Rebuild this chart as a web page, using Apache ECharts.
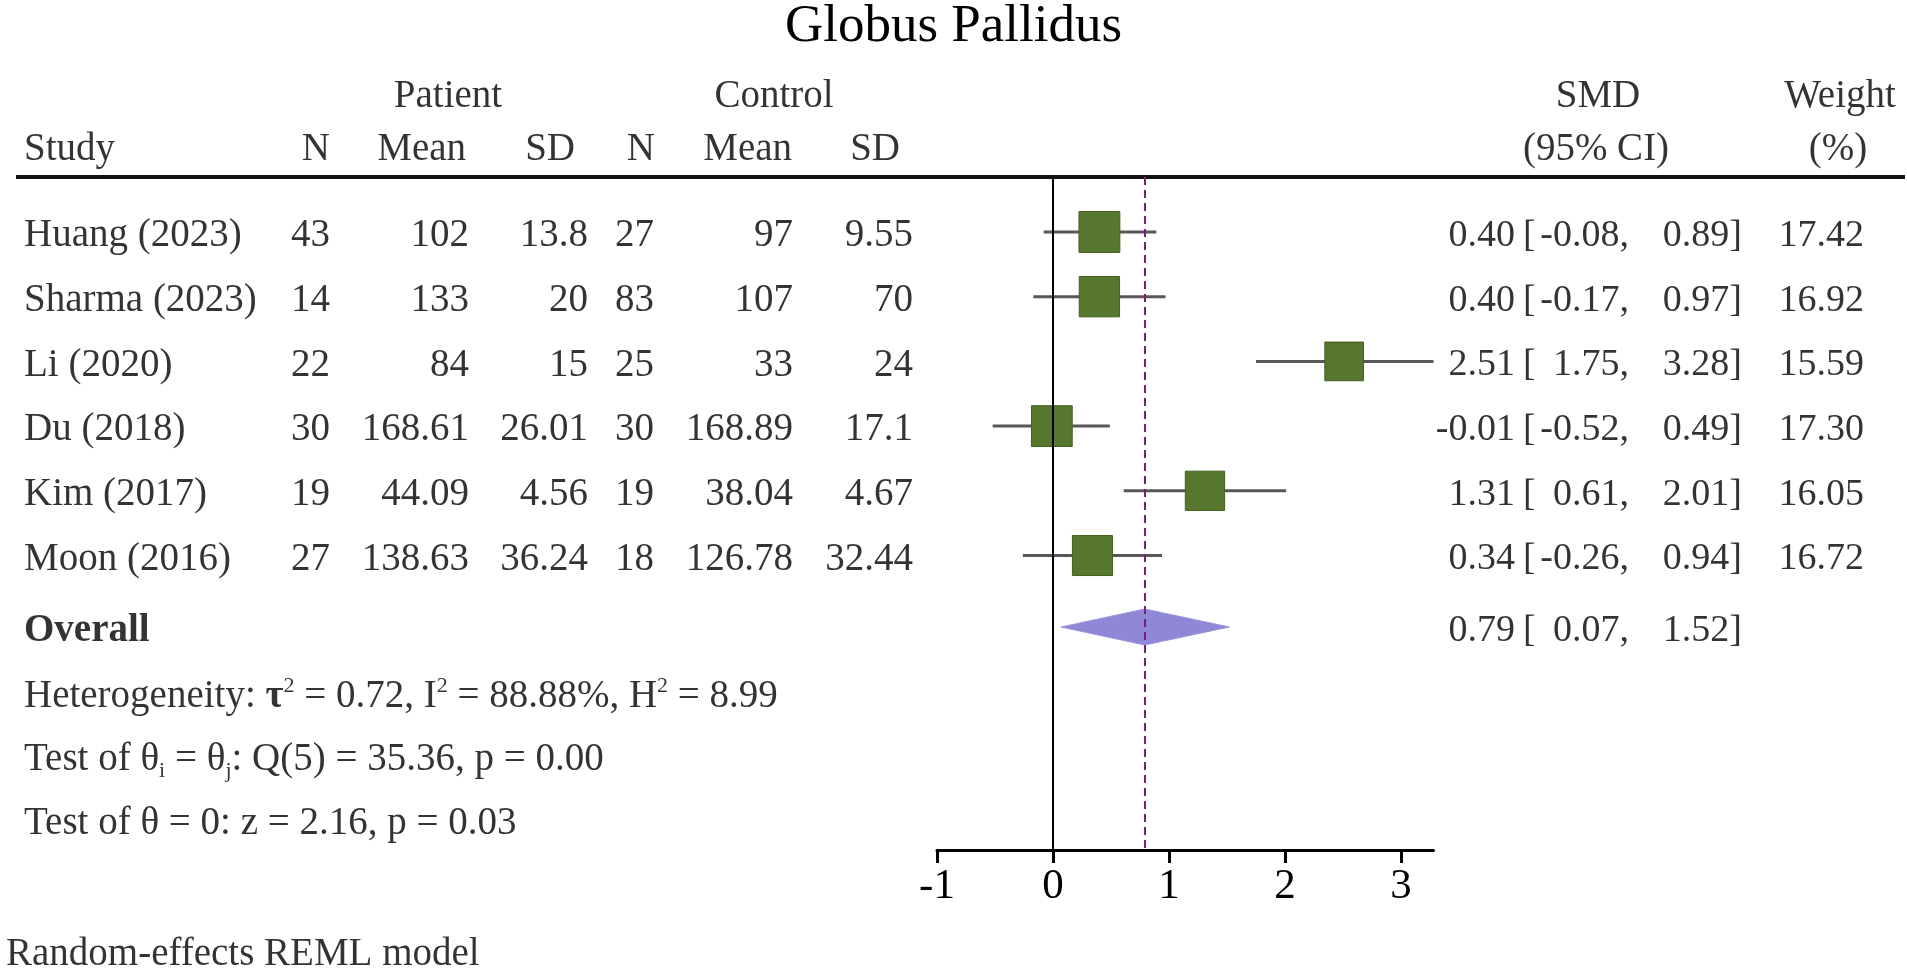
<!DOCTYPE html>
<html>
<head>
<meta charset="utf-8">
<title>Globus Pallidus</title>
<script src="https://cdn.jsdelivr.net/npm/echarts@6/dist/echarts.min.js"></script>
<style>
  html, body { margin: 0; padding: 0; background: #fff; }
  #chart { width: 1907px; height: 970px; }
</style>
</head>
<body>
<div id="chart"></div>
<script>
// study table
const studies = ['Huang (2023)', 'Sharma (2023)', 'Li (2020)', 'Du (2018)', 'Kim (2017)', 'Moon (2016)'];
const patientN = [43, 14, 22, 30, 19, 27];
const patientMean = [102, 133, 84, 168.61, 44.09, 138.63];
const patientSD = [13.8, 20, 15, 26.01, 4.56, 36.24];
const controlN = [27, 83, 25, 30, 19, 18];
const controlMean = [97, 107, 33, 168.89, 38.04, 126.78];
const controlSD = [9.55, 70, 24, 17.1, 4.67, 32.44];

// effect sizes
const smd = [0.40, 0.40, 2.51, -0.01, 1.31, 0.34];
const ciLow = [-0.08, -0.17, 1.75, -0.52, 0.61, -0.26];
const ciHigh = [0.89, 0.97, 3.28, 0.49, 2.01, 0.94];
const weight = [17.42, 16.92, 15.59, 17.30, 16.05, 16.72];

// pooled result and tests
const overallEst = 0.79, overallLow = 0.07, overallHigh = 1.52;
const tau2 = 0.72, i2 = 88.88, h2 = 8.99;
const qDf = 5, qStat = 35.36, qP = 0.00;
const zStat = 2.16, zP = 0.03;

const xTicks = [-1, 0, 1, 2, 3];

// ---- layout ----
const W = 1907, H = 970;
const FONT = "'Liberation Serif', 'Times New Roman', serif";
const FS = 39;
const FS_NUM = 38;                        // right-hand SMD / weight columns
const ROW0 = 232, ROW_H = 64.7;          // pixel y of first study row, row spacing
const rowAt = px => (px - ROW0) / ROW_H;
const TDY = 4 / ROW_H;                    // text sits a little lower than the marks
const PLOT = { left: 937, right: 1433.5, top: 177, bottom: 850 };
const BOX_K = 9.8;                        // square side = BOX_K * sqrt(weight)

const ROW_HEAD1 = rowAt(97), ROW_HEAD2 = rowAt(150), ROW_RULE = rowAt(177);
const ROW_OVERALL = rowAt(627);
const ROW_HET = rowAt(697), ROW_Q = rowAt(760), ROW_Z = rowAt(824), ROW_NOTE = rowAt(955);

const studyRows = studies.map((_, i) => i);
const textRows = studyRows.map(r => r + TDY);
const col = (x, rows, texts) => texts.map((t, k) => [x, rows[k], String(t)]);

function textSeries(points, align, extra) {
  return {
    type: 'scatter', xAxisIndex: 1, yAxisIndex: 1,
    symbolSize: 1, itemStyle: { color: 'rgba(0,0,0,0)' }, silent: true, z: 5,
    data: points,
    label: Object.assign({
      show: true, position: 'inside', align: align, verticalAlign: 'middle',
      color: '#000', fontFamily: FONT, fontSize: FS,
      formatter: p => p.data[2]
    }, extra || {})
  };
}

const rich = {
  t: { fontFamily: FONT, fontSize: FS, color: '#000', lineHeight: 44 },
  b: { fontFamily: FONT, fontSize: FS, color: '#000', lineHeight: 44, fontWeight: 'bold' },
  sup: { fontFamily: FONT, fontSize: 22, color: '#000', lineHeight: 30, verticalAlign: 'top' },
  sub: { fontFamily: FONT, fontSize: 22, color: '#000', lineHeight: 26, verticalAlign: 'bottom' }
};

const hetText = `{t|Heterogeneity: }{b|τ}{sup|2}{t| = ${tau2.toFixed(2)}, I}{sup|2}{t| = ${i2.toFixed(2)}%, H}{sup|2}{t| = ${h2.toFixed(2)}}`;
const qText = `{t|Test of θ}{sub|i}{t| = θ}{sub|j}{t|: Q(${qDf}) = ${qStat.toFixed(2)}, p = ${qP.toFixed(2)}}`;
const zText = `{t|Test of θ = 0: z = ${zStat.toFixed(2)}, p = ${zP.toFixed(2)}}`;

const allRows = textRows.concat([ROW_OVERALL + TDY]);
const estTxt = smd.concat([overallEst]).map(v => v.toFixed(2));
const lowTxt = ciLow.concat([overallLow]).map(v => v.toFixed(2) + ',');
const highTxt = ciHigh.concat([overallHigh]).map(v => v.toFixed(2) + ']');
const numStyle = { fontSize: FS_NUM };

const chart = echarts.init(document.getElementById('chart'));

chart.setOption({
  backgroundColor: '#fff',
  animation: false,
  title: {
    text: 'Globus Pallidus', left: 'center', top: -4,
    textStyle: { fontFamily: FONT, fontSize: 53, fontWeight: 'normal', color: '#000' }
  },
  grid: [
    { left: PLOT.left, right: W - PLOT.right, top: PLOT.top, bottom: H - PLOT.bottom },
    { left: 0, right: 0, top: 0, bottom: 0 }
  ],
  xAxis: [
    {
      gridIndex: 0, type: 'value', min: -1, max: 3.28,
      splitLine: { show: false },
      axisLine: { show: true, onZero: false, lineStyle: { color: '#000', width: 3 } },
      axisTick: { show: true, customValues: xTicks, length: 13, lineStyle: { color: '#000', width: 3 } },
      axisLabel: {
        customValues: xTicks, margin: 15, color: '#000',
        fontFamily: FONT, fontSize: 43, formatter: v => String(v)
      }
    },
    { gridIndex: 1, type: 'value', min: 0, max: W, show: false }
  ],
  yAxis: [
    { gridIndex: 0, type: 'value', inverse: true, min: ROW_RULE, max: rowAt(PLOT.bottom), show: false },
    { gridIndex: 1, type: 'value', inverse: true, min: rowAt(0), max: rowAt(H), show: false }
  ],
  series: [
    // reference lines: no effect and pooled estimate
    {
      type: 'line', xAxisIndex: 0, yAxisIndex: 0, data: [], z: 1,
      markLine: {
        silent: true, symbol: ['none', 'none'], label: { show: false },
        data: [
          { xAxis: 0, lineStyle: { color: '#000', width: 2, type: 'solid' } },
          { xAxis: overallEst, lineStyle: { color: '#7a1e7a', width: 2, type: [8, 5] } }
        ]
      }
    },
    // study CIs and weighted squares
    {
      type: 'custom', xAxisIndex: 0, yAxisIndex: 0, z: 3, clip: false,
      data: studies.map((s, i) => [smd[i], i, ciLow[i], ciHigh[i], weight[i]]),
      encode: { x: 0, y: 1 },
      renderItem: (params, api) => {
        const y = api.value(1);
        const c = api.coord([api.value(0), y]);
        const lo = api.coord([api.value(2), y]);
        const hi = api.coord([api.value(3), y]);
        const s = BOX_K * Math.sqrt(api.value(4));
        return {
          type: 'group',
          children: [
            { type: 'line', shape: { x1: lo[0], y1: lo[1], x2: hi[0], y2: hi[1] },
              style: { stroke: '#575757', lineWidth: 3 } },
            { type: 'rect', shape: { x: c[0] - s / 2, y: c[1] - s / 2, width: s, height: s },
              style: { fill: '#56772d', stroke: '#42601e', lineWidth: 1 } }
          ]
        };
      }
    },
    // pooled diamond
    {
      type: 'custom', xAxisIndex: 0, yAxisIndex: 0, z: 3, clip: false,
      data: [[overallEst, ROW_OVERALL, overallLow, overallHigh]],
      encode: { x: 0, y: 1 },
      renderItem: (params, api) => {
        const y = api.value(1);
        const c = api.coord([api.value(0), y]);
        const lo = api.coord([api.value(2), y]);
        const hi = api.coord([api.value(3), y]);
        const h = 18;
        return {
          type: 'polygon',
          shape: { points: [[lo[0], c[1]], [c[0], c[1] - h], [hi[0], c[1]], [c[0], c[1] + h]] },
          style: { fill: '#8f88d6', stroke: '#9a93dc', lineWidth: 1 }
        };
      }
    },
    // header rule
    {
      type: 'line', xAxisIndex: 1, yAxisIndex: 1, symbol: 'none', silent: true, z: 4,
      data: [[16, ROW_RULE], [1905, ROW_RULE]],
      lineStyle: { color: '#111', width: 4 }
    },
    // headers
    textSeries([[448, ROW_HEAD1, 'Patient'], [774, ROW_HEAD1, 'Control'],
                [1598, ROW_HEAD1, 'SMD'], [1840, ROW_HEAD1, 'Weight'],
                [1596, ROW_HEAD2, '(95% CI)'], [1838, ROW_HEAD2, '(%)']], 'center'),
    textSeries([[24, ROW_HEAD2, 'Study']], 'left'),
    textSeries([[330, ROW_HEAD2, 'N'], [466, ROW_HEAD2, 'Mean'], [575, ROW_HEAD2, 'SD'],
                [655, ROW_HEAD2, 'N'], [792, ROW_HEAD2, 'Mean'], [900, ROW_HEAD2, 'SD']], 'right'),
    // study table
    textSeries(col(24, textRows, studies), 'left'),
    textSeries(col(330, textRows, patientN), 'right'),
    textSeries(col(469, textRows, patientMean), 'right'),
    textSeries(col(588, textRows, patientSD), 'right'),
    textSeries(col(654, textRows, controlN), 'right'),
    textSeries(col(793, textRows, controlMean), 'right'),
    textSeries(col(913, textRows, controlSD), 'right'),
    // SMD (95% CI) and weights
    textSeries(col(1515, allRows, estTxt), 'right', numStyle),
    textSeries(col(1523, allRows, allRows.map(() => '[')), 'left', numStyle),
    textSeries(col(1629, allRows, lowTxt), 'right', numStyle),
    textSeries(col(1742, allRows, highTxt), 'right', numStyle),
    textSeries(col(1864, textRows, weight.map(v => v.toFixed(2))), 'right', numStyle),
    // overall and statistics
    textSeries([[24, ROW_OVERALL + TDY, 'Overall']], 'left', { fontWeight: 'bold' }),
    textSeries([[24, ROW_HET, hetText], [24, ROW_Q, qText], [24, ROW_Z, zText]], 'left', { rich: rich }),
    textSeries([[6, ROW_NOTE, 'Random-effects REML model']], 'left')
  ]
});
</script>
</body>
</html>
